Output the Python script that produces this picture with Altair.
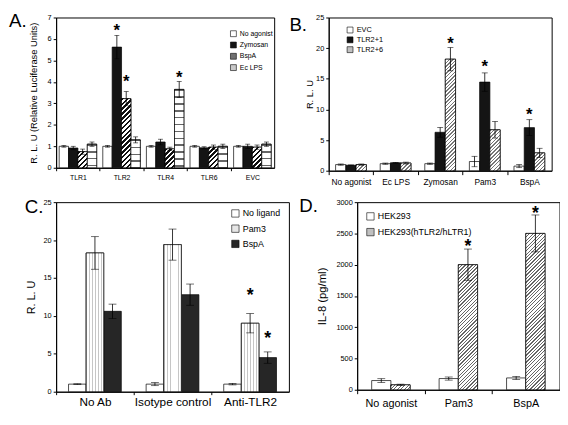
import math
import altair as alt
import pandas as pd

FONT = "Liberation Sans"

# ---------------- Panel A ----------------
a_categories = ["TLR1", "TLR2", "TLR4", "TLR6", "EVC"]
a_series = ["No agonist", "Zymosan", "BspA", "Ec LPS"]
a_no_agonist = [1.0, 1.0, 1.0, 1.0, 1.0]
a_no_agonist_err = [0.04, 0.04, 0.04, 0.04, 0.04]
a_zymosan = [0.92, 5.62, 1.2, 0.93, 1.0]
a_zymosan_err = [0.08, 0.55, 0.13, 0.05, 0.1]
a_bspa = [0.75, 3.22, 0.88, 0.96, 0.96]
a_bspa_err = [0.12, 0.33, 0.08, 0.1, 0.1]
a_ec_lps = [1.1, 1.3, 3.65, 1.0, 1.1]
a_ec_lps_err = [0.1, 0.14, 0.37, 0.1, 0.1]
a_star_categories = ["TLR2", "TLR2", "TLR4"]
a_star_series = ["Zymosan", "BspA", "Ec LPS"]
a_star_y = [6.6, 4.2, 4.4]
a_ticks = [0, 1, 2, 3, 4, 5, 6, 7]

# ---------------- Panel B ----------------
b_categories = ["No agonist", "Ec LPS", "Zymosan", "Pam3", "BspA"]
b_series = ["EVC", "TLR2+1", "TLR2+6"]
b_evc = [1.0, 1.15, 1.15, 1.5, 0.75]
b_evc_err = [0.1, 0.1, 0.1, 0.85, 0.25]
b_tlr21 = [0.9, 1.3, 6.27, 14.46, 7.03]
b_tlr21_err = [0.05, 0.05, 0.8, 1.5, 1.3]
b_tlr26 = [1.0, 1.25, 18.2, 6.68, 2.91]
b_tlr26_err = [0.1, 0.15, 1.9, 1.35, 0.75]
b_star_categories = ["Zymosan", "Pam3", "BspA"]
b_star_series = ["TLR2+6", "TLR2+1", "TLR2+1"]
b_star_y = [21.4, 17.6, 9.8]
b_ticks = [0, 5, 10, 15, 20, 25]

# ---------------- Panel C ----------------
c_categories = ["No Ab", "Isotype control", "Anti-TLR2"]
c_series = ["No ligand", "Pam3", "BspA"]
c_no_ligand = [1.0, 1.0, 1.0]
c_no_ligand_err = [0.05, 0.2, 0.1]
c_pam3 = [18.3, 19.4, 9.03]
c_pam3_err = [2.15, 2.05, 1.27]
c_bspa = [10.6, 12.8, 4.5]
c_bspa_err = [0.95, 1.4, 0.75]
c_star_categories = ["Anti-TLR2", "Anti-TLR2"]
c_star_series = ["Pam3", "BspA"]
c_star_y = [13.3, 7.6]
c_ticks = [0, 5, 10, 15, 20, 25]

# ---------------- Panel D ----------------
d_categories = ["No agonist", "Pam3", "BspA"]
d_series = ["HEK293", "HEK293(hTLR2/hLTR1)"]
d_hek293 = [147, 179, 189]
d_hek293_err = [30, 25, 25]
d_hek_tlr = [79, 2000, 2500]
d_hek_tlr_err = [10, 250, 295]
d_star_categories = ["Pam3", "BspA"]
d_star_series = ["HEK293(hTLR2/hLTR1)", "HEK293(hTLR2/hLTR1)"]
d_star_y = [2358, 2884]
d_ticks = [0, 500, 1000, 1500, 2000, 2500, 3000]


def stripe_stops(n, frac, dark, light):
    stops = []
    k = 0
    while k < n:
        a = k / n
        b = min((k + frac) / n, 1.0)
        c = min((k + 1) / n, 1.0)
        stops += [
            alt.GradientStop(offset=round(a, 5), color=dark),
            alt.GradientStop(offset=round(b, 5), color=dark),
            alt.GradientStop(offset=round(b, 5), color=light),
            alt.GradientStop(offset=round(c, 5), color=light),
        ]
        k += 1
    return stops


def pattern_fill(kind, w, h, period, frac, dark, light="white"):
    if kind == "diag":
        n = max((w + h) / math.sqrt(2) / period, 1)
        s = w * w + h * h
        return alt.LinearGradient(gradient="linear", stops=stripe_stops(n, frac, dark, light),
                                  x1=0, y1=0, x2=(w + h) * w / s, y2=(w + h) * h / s)
    if kind == "h":
        n = max(h / period, 1)
        return alt.LinearGradient(gradient="linear", stops=stripe_stops(n, frac, dark, light),
                                  x1=0, y1=0, x2=0, y2=1)
    n = max(w / period, 1)
    return alt.LinearGradient(gradient="linear", stops=stripe_stops(n, frac, dark, light),
                              x1=0, y1=0, x2=1, y2=0)


def make_panel(p):
    cats, series = p["cats"], p["series"]
    rows = []
    for s, vals, errs in zip(series, p["values"], p["errors"]):
        for c, v, e in zip(cats, vals, errs):
            rows.append(dict(cat=c, series=s, value=v, lo=v - e, hi=v + e))
    df = pd.DataFrame(rows)
    W, H = p["W"], p["H"]
    step = W / len(cats)
    x = alt.X("cat:N", sort=cats, title=None,
              scale=alt.Scale(domain=cats, paddingInner=p["pi"], paddingOuter=p["pi"] / 2),
              axis=alt.Axis(labelAngle=0, labelFontSize=p["xfs"], tickSize=p["xtick"],
                            labelPadding=p["xpad"], tickOffset=-step / 2, labelOffset=step / 2))
    xo = alt.XOffset("series:N", sort=series,
                     scale=alt.Scale(domain=series, paddingInner=0, paddingOuter=0))
    ys = alt.Scale(domain=[0, p["ymax"]], nice=False, zero=True)
    yax = alt.Axis(values=p["ticks"], format="d", title=p["ytitle"], titleFontSize=p["ytfs"],
                   titlePadding=p["ytpad"], labelFontSize=p["yfs"], tickSize=3, labelPadding=2)

    def Y(f):
        return alt.Y(f, scale=ys, axis=yax)

    bars = alt.Chart(df).mark_bar(stroke="black", strokeWidth=0.7).encode(
        x=x, xOffset=xo, y=Y("value:Q"),
        fill=alt.Fill("series:N", sort=series,
                      scale=alt.Scale(domain=series, range=p["fills"]),
                      legend=alt.Legend(title=None, orient="none", legendX=p["lx"], legendY=p["ly"],
                                        labelFontSize=p["lfs"], symbolSize=p["lsym"],
                                        symbolType="square", symbolStrokeColor="black",
                                        symbolStrokeWidth=0.6, rowPadding=p["lrow"],
                                        labelOffset=3, padding=0, labelLimit=300)))
    layers = [bars]
    bw = step * (1 - p["pi"]) / len(series)
    for s, vals in zip(series, p["values"]):
        if s not in p["patterns"]:
            continue
        kind, period, frac, dark = p["patterns"][s]
        for c, v in zip(cats, vals):
            h = v / p["ymax"] * H
            grad = pattern_fill(kind, bw, h, period, frac, dark)
            layers.append(
                alt.Chart(pd.DataFrame([dict(cat=c, series=s, value=v)]))
                .mark_bar(fill=grad, stroke="black", strokeWidth=0.7)
                .encode(x=x, xOffset=xo, y=Y("value:Q"))
            )
    layers.append(alt.Chart(df).mark_rule(color="black", strokeWidth=0.8).encode(
        x=x, xOffset=xo, y=Y("lo:Q"), y2="hi:Q"))
    for f in ["lo:Q", "hi:Q"]:
        layers.append(alt.Chart(df).mark_tick(color="black", thickness=0.8, size=p["cap"],
                                              orient="horizontal").encode(
            x=x, xOffset=xo, y=Y(f)))
    sdf = pd.DataFrame(dict(cat=p["star_cats"], series=p["star_series"], ystar=p["star_y"]))
    layers.append(alt.Chart(sdf).mark_text(text="*", font=FONT, fontSize=p["sfs"],
                                           fontWeight="bold", color="black",
                                           baseline="middle", dy=0.27 * p["sfs"]).encode(
        x=x, xOffset=xo, y=Y("ystar:Q")))
    ldf = pd.DataFrame(dict(t=[p["letter"]]))
    layers.append(alt.Chart(ldf).mark_text(font=FONT, fontSize=19, align="left",
                                           baseline="top", color="black").encode(
        text="t:N", x=alt.value(p["letter_x"]), y=alt.value(p["letter_y"])))
    return alt.layer(*layers).properties(width=W, height=H)


panel_a = make_panel(dict(
    letter="A.", letter_x=-48, letter_y=-5.5,
    cats=a_categories, series=a_series,
    values=[a_no_agonist, a_zymosan, a_bspa, a_ec_lps],
    errors=[a_no_agonist_err, a_zymosan_err, a_bspa_err, a_ec_lps_err],
    fills=["white", "#141414", "#707070", "#c8c8c8"],
    patterns={"BspA": ("diag", 3.5, 0.5, "#111111"), "Ec LPS": ("h", 7, 0.22, "#666666")},
    star_cats=a_star_categories, star_series=a_star_series, star_y=a_star_y,
    ticks=a_ticks, ymax=7, W=222, H=153, pi=0.14,
    xfs=7, xtick=3, xpad=3, yfs=7.5, ytitle="R. L. U (Relative Luciferase Units)",
    ytfs=9.5, ytpad=9, lx=177, ly=13, lfs=7, lsym=36, lrow=2.5, cap=5, sfs=17))

panel_b = make_panel(dict(
    letter="B.", letter_x=-40, letter_y=-1.4,
    cats=b_categories, series=b_series,
    values=[b_evc, b_tlr21, b_tlr26],
    errors=[b_evc_err, b_tlr21_err, b_tlr26_err],
    fills=["white", "#141414", "#c0c0c0"],
    patterns={"TLR2+6": ("diag", 2.6, 0.4, "#777777")},
    star_cats=b_star_categories, star_series=b_star_series, star_y=b_star_y,
    ticks=b_ticks, ymax=25, W=227, H=156, pi=0.31,
    xfs=8.5, xtick=4, xpad=3, yfs=7.5, ytitle="R. L. U",
    ytfs=9.5, ytpad=1, lx=18, ly=9, lfs=7.5, lsym=36, lrow=1, cap=6, sfs=17))

panel_c = make_panel(dict(
    letter="C.", letter_x=-32, letter_y=-4.4,
    cats=c_categories, series=c_series,
    values=[c_no_ligand, c_pam3, c_bspa],
    errors=[c_no_ligand_err, c_pam3_err, c_bspa_err],
    fills=["white", "#e6e6e6", "#262626"],
    patterns={"Pam3": ("v", 3, 0.3, "#c6c6c6")},
    star_cats=c_star_categories, star_series=c_star_series, star_y=c_star_y,
    ticks=c_ticks, ymax=25, W=237, H=193, pi=0.32,
    xfs=12, xtick=3, xpad=2, yfs=7.5, ytitle="R. L. U",
    ytfs=11, ytpad=7, lx=178, ly=7, lfs=9, lsym=56, lrow=4.5, cap=8, sfs=18))

panel_d = make_panel(dict(
    letter="D.", letter_x=-59, letter_y=-5.4,
    cats=d_categories, series=d_series,
    values=[d_hek293, d_hek_tlr],
    errors=[d_hek293_err, d_hek_tlr_err],
    fills=["white", "#c0c0c0"],
    patterns={"HEK293(hTLR2/hLTR1)": ("diag", 2.5, 0.38, "#666666")},
    star_cats=d_star_categories, star_series=d_star_series, star_y=d_star_y,
    ticks=d_ticks, ymax=3000, W=206, H=191, pi=0.43,
    xfs=11, xtick=4, xpad=4, yfs=7.5, ytitle="IL-8 (pg/ml)",
    ytfs=11.5, ytpad=9, lx=9, ly=10, lfs=9, lsym=56, lrow=5, cap=8, sfs=18))

RES = dict(x="independent", y="independent", fill="independent", xOffset="independent")

row1 = alt.hconcat(panel_a, panel_b, spacing=13.5).resolve_scale(**RES).resolve_legend(fill="independent")
row2 = alt.hconcat(panel_c, panel_d, spacing=8.5).resolve_scale(**RES).resolve_legend(fill="independent")

chart = (
    alt.vconcat(row1, row2, spacing=10)
    .resolve_scale(**RES)
    .resolve_legend(fill="independent")
    .properties(padding=0)
    .configure_view(stroke="black", strokeWidth=1)
    .configure_axis(labelFont=FONT, titleFont=FONT, labelColor="black", titleColor="black",
                    domainColor="black", tickColor="black", titleFontWeight="normal",
                    grid=False, domainWidth=1, tickWidth=1)
    .configure_legend(labelFont=FONT, labelColor="black")
)

chart.save("out.html", embed_options={"renderer": "svg", "actions": False})
